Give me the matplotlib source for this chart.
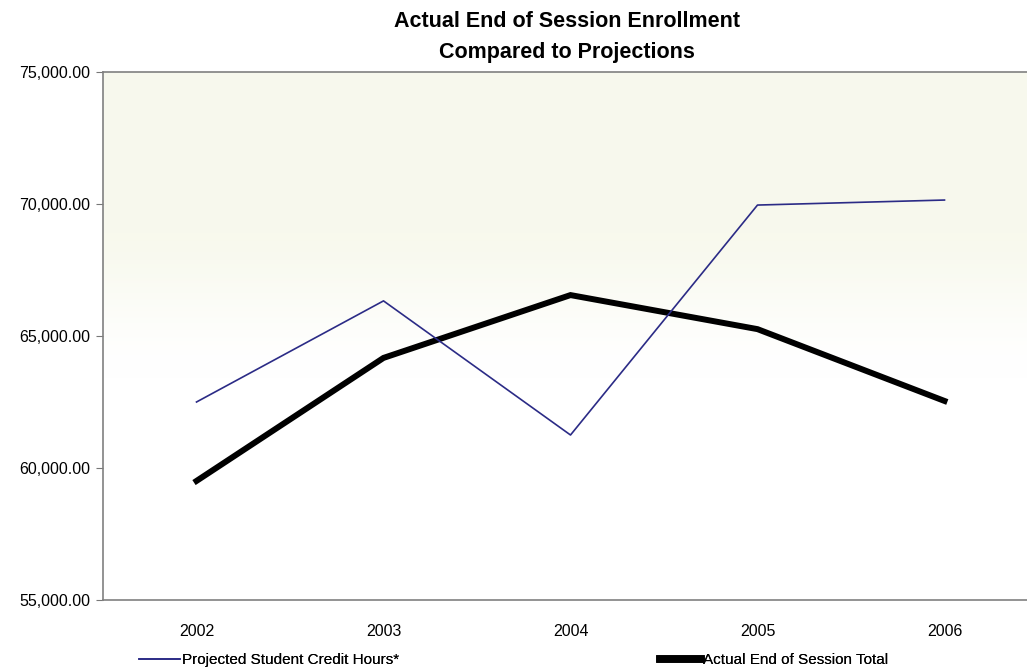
import numpy as np
import matplotlib.pyplot as plt
from matplotlib.lines import Line2D

# ---- data ----
years = ['2002', '2003', '2004', '2005', '2006']
projected = [62500, 66330, 61250, 69960, 70150]
actual = [59510, 64170, 66550, 65260, 62540]
yticks = [55000, 60000, 65000, 70000, 75000]

plt.rcParams['font.family'] = ['Liberation Sans', 'DejaVu Sans']

fig = plt.figure(figsize=(10.27, 6.7), dpi=100)
# right edge runs past the picture, as in the scan
ax = fig.add_axes([103 / 1027, 70 / 670, 935 / 1027, 528 / 670])

x = np.arange(len(years)) + 0.5
ax.set_xlim(0, len(years))
ax.set_ylim(55000, 75000)

# pale cream wash at the top fading to white around 65,000
grad = np.linspace(0, 1, 256).reshape(-1, 1)
top = np.array([0.972, 0.976, 0.93])
white = np.array([1.0, 1.0, 1.0])
t = np.clip((grad - 0.42) / 0.3, 0, 1)
w = t * t * (3 - 2 * t)
img = white + (top - white) * w
img = np.repeat(img[:, None, :], 2, axis=1).reshape(256, 2, 3)
ax.imshow(img, extent=[0, len(years), 55000, 75000], origin='lower',
          aspect='auto', zorder=0)

ax.plot(x, projected, color='#2b2b86', lw=1.2, zorder=3)
ax.plot(x, actual, color='black', lw=4.3, solid_joinstyle='miter', zorder=2)

ax.set_yticks(yticks)
ax.set_yticklabels([f'{v:,.2f}' for v in yticks], fontsize=11.5)
ax.set_xticks(x)
ax.set_xticklabels(years, fontsize=11.5)
ax.tick_params(axis='x', length=0, pad=17)
ax.tick_params(axis='y', length=5, color='#777777', pad=4)

for s in ['left', 'bottom', 'top']:
    ax.spines[s].set_color('#808080')
    ax.spines[s].set_linewidth(1.2)
ax.spines['right'].set_visible(False)

fig.text(0.552, 1 - 11 / 670, 'Actual End of Session Enrollment\nCompared to Projections',
         ha='center', va='top', fontsize=15.5, fontweight='bold', linespacing=1.6)

# two legend entries, placed like the original
h1 = Line2D([], [], color='#2b2b86', lw=1.2)
h2 = Line2D([], [], color='black', lw=5.5)
for h, lab, x0 in [(h1, 'Projected Student Credit Hours*', 139),
                   (h2, 'Actual End of Session Total', 660)]:
    leg = fig.legend(handles=[h], labels=[lab], loc='center left',
                     bbox_to_anchor=(x0 / 1027, 1 - 660 / 670),
                     frameon=False, fontsize=11, handlelength=2.7,
                     handletextpad=0.1, borderpad=0, borderaxespad=0)
    fig.add_artist(leg)

fig.savefig('out.png', dpi=100)
